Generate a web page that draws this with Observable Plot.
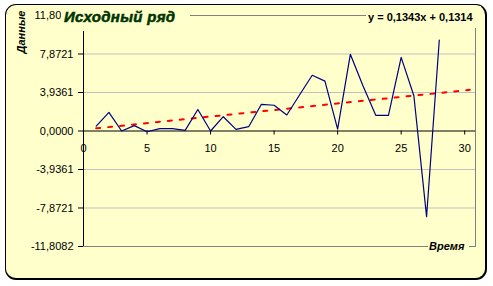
<!DOCTYPE html>
<html><head><meta charset="utf-8">
<script src="https://cdn.jsdelivr.net/npm/d3@7"></script>
<script src="https://cdn.jsdelivr.net/npm/@observablehq/plot@0.6"></script>
<style>
body{margin:0;background:#fff;}
#wrap{position:relative;width:493px;height:286px;font-family:"Liberation Sans",Arial,sans-serif;overflow:hidden;}
#box{position:absolute;left:5px;top:4px;width:479px;height:273px;border:1px solid #000;border-right-width:2px;border-bottom-width:2px;border-radius:11px;background:#FFFFCC;}
#chart{position:absolute;left:0;top:0;}
.lbl{position:absolute;background:#FFFFCC;white-space:nowrap;box-sizing:border-box;}
#title{left:61px;top:6px;width:129px;height:25px;padding:3px 0 0 3px;font:italic bold 15px/15px "Liberation Sans",Arial,sans-serif;color:#003300;-webkit-text-stroke:0.5px #003300;letter-spacing:0.3px;}
#eq{left:366px;top:6px;width:121px;height:22px;padding:6px 0 0 2px;font:bold 11px/11px "Liberation Sans",Arial,sans-serif;color:#000;background:transparent;}
#eqbg{position:absolute;left:366px;top:6px;width:115px;height:22px;background:#FFFFCC;}
#ylab{position:absolute;left:20.5px;top:32px;transform:translate(-50%,-50%) rotate(-90deg);font:italic bold 11px/11px "Liberation Sans",Arial,sans-serif;white-space:nowrap;}
#xlab{left:428px;top:240.5px;width:41px;height:12px;padding:0 0 0 1px;font:italic bold 11px/11px "Liberation Sans",Arial,sans-serif;}
</style>
</head><body>
<div id="wrap">
  <div id="box"></div>
  <div id="chart"></div>
  <div id="eqbg"></div>
  <div class="lbl" id="title">Исходный ряд</div>
  <div class="lbl" id="eq">y = 0,1343x + 0,1314</div>
  <div id="ylab">Данные</div>
  <div class="lbl" id="xlab">Время</div>
</div>
<script>
// Data
const times = [1,2,3,4,5,6,7,8,9,10,11,12,13,14,15,16,17,18,19,20,21,22,23,24,25,26,27,28];
const values = [0.5,1.9,0,0.55,-0.08,0.24,0.24,0.07,2.2,0,1.46,0.17,0.44,2.73,2.63,1.64,3.68,5.7,5.1,0.2,7.84,4.6,1.6,1.6,7.53,3.6,-8.76,9.3];
// Linear trend endpoints (y = 0,1343x + 0,1314)
const trendX = [1, 30.4];
const trendY = [0.27, 4.21];
// Axis ticks
const yTicks = [-11.8082,-7.8721,-3.9361,0,3.9361,7.8721,11.8082];
const yTickLabels = ["-11,8082","-7,8721","-3,9361","0,0000","3,9361","7,8721","11,8082"];
const xTicks = [0,5,10,15,20,25,30];
const xTickLabels = ["0","5","10","15","20","25","30"];
const gridY = [-7.8721,-3.9361,3.9361,7.8721];

const data = times.map((t,i)=>({t, v: values[i]}));
const trend = trendX.map((t,i)=>({t, v: trendY[i]}));
const xt = xTicks.map((x,i)=>({x, label: xTickLabels[i]}));

const chart = Plot.plot({
  width: 493, height: 286,
  marginLeft: 83, marginRight: 18, marginTop: 15, marginBottom: 40,
  style: {background: "transparent", fontFamily: "'Liberation Sans', Arial, sans-serif", fontSize: "11px", color: "#000"},
  x: {domain: [0, 30.85], axis: null},
  y: {domain: [-11.8082, 11.8082], axis: null},
  marks: [
    Plot.ruleY(gridY, {stroke: "#c0c0c0"}),
    Plot.frame({stroke: "#808080"}),
    Plot.ruleY([0], {stroke: "#000"}),
    Plot.ruleX([0], {stroke: "#000"}),
    Plot.ruleX(xt, {x: "x", y1: 0, y2: 0, insetBottom: -4, stroke: "#000"}),
    Plot.text(xt, {x: "x", y: 0, dy: 17, text: "label", fontSize: 11, fill: "#000"}),
    Plot.axisY({ticks: yTicks, tickFormat: (d,i)=>yTickLabels[i], tickSize: 5, tickPadding: 5, fontSize: 11, label: null, anchor: "left"}),
    Plot.line(trend, {x: "t", y: "v", stroke: "#ff0000", strokeWidth: 2, strokeDasharray: "4,8"}),
    Plot.line(data, {x: "t", y: "v", stroke: "#000080", strokeWidth: 1.2})
  ]
});
document.getElementById("chart").appendChild(chart);
</script>
</body></html>
